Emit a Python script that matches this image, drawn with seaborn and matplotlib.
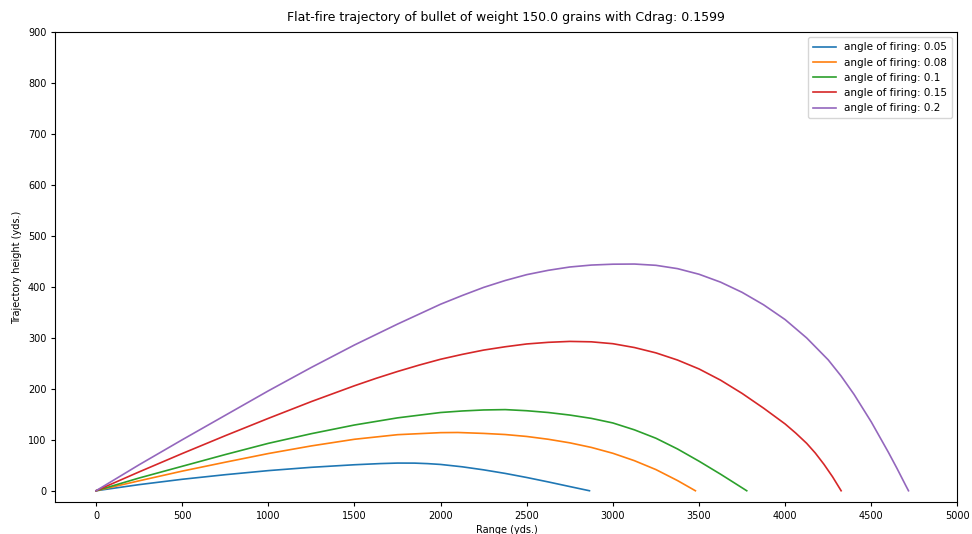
import matplotlib
matplotlib.use("Agg")
import matplotlib.pyplot as plt
import seaborn as sns
import pandas as pd

# Range (yds.) and height (yds.) samples for each firing angle
angles = [0.05, 0.08, 0.1, 0.15, 0.2]

x_005 = [0, 250, 500, 750, 1000, 1250, 1500, 1650, 1750, 1850, 1925, 2000, 2125,
         2250, 2375, 2500, 2625, 2750, 2864]
y_005 = [0, 12, 22.5, 31.5, 39.5, 46, 51, 53.3, 54.3, 54.2, 53.2, 51.6, 47,
         41, 34, 26, 17.3, 8.2, 0]

x_008 = [0, 250, 500, 750, 1000, 1250, 1500, 1750, 2000, 2100, 2250, 2375, 2500,
         2625, 2750, 2875, 3000, 3125, 3250, 3375, 3479]
y_008 = [0, 19.5, 38.5, 56, 73, 88, 101, 110, 114, 114.3, 112.5, 110.3, 106.5,
         101, 94, 85, 73.5, 59, 41.5, 20, 0]

x_010 = [0, 250, 500, 750, 1000, 1250, 1500, 1750, 2000, 2125, 2250, 2375, 2500,
         2625, 2750, 2875, 3000, 3125, 3250, 3375, 3500, 3625, 3700, 3777]
y_010 = [0, 25, 48, 71, 93, 112, 129, 143, 153.5, 156.5, 158.5, 159.2, 157,
         153.5, 148.5, 142, 133, 119.5, 103, 82, 58, 32.5, 16.5, 0]

x_015 = [0, 250, 500, 750, 1000, 1250, 1500, 1625, 1750, 1875, 2000, 2125, 2250,
         2375, 2500, 2625, 2750, 2875, 3000, 3125, 3250, 3375, 3500, 3625, 3750,
         3875, 4000, 4062, 4125, 4175, 4225, 4275, 4325]
y_015 = [0, 37, 73, 108, 142, 175, 206, 220.5, 234, 246.5, 258, 267.5, 276,
         282.5, 288, 291.2, 293, 292.2, 288.5, 281, 270.5, 256.5, 239, 217, 191,
         162, 131, 113, 93, 74, 52, 27.5, 0]

x_020 = [0, 250, 500, 750, 1000, 1250, 1500, 1750, 2000, 2125, 2250, 2375, 2500,
         2625, 2750, 2875, 3000, 3125, 3250, 3375, 3500, 3625, 3750, 3875, 4000,
         4125, 4250, 4325, 4400, 4500, 4600, 4650, 4700, 4716]
y_020 = [0, 51, 100, 148, 196, 242, 286, 327, 366, 383, 399, 412.5, 424,
         432.5, 439, 442.8, 444.5, 444.8, 442.3, 435.8, 424.8, 409.3, 389.3, 364.8,
         335.8, 299.8, 256.8, 225, 189, 135, 75, 43.3, 10.3, 0]

xs = [x_005, x_008, x_010, x_015, x_020]
ys = [y_005, y_008, y_010, y_015, y_020]

x_ticks = list(range(0, 5001, 500))
y_ticks = list(range(0, 901, 100))

fig = plt.figure(figsize=(9.72, 5.34), dpi=100)
ax = fig.add_axes([0.057, 0.06, 0.928, 0.88])

palette = sns.color_palette("tab10", len(angles))
for ang, xv, yv, col in zip(angles, xs, ys, palette):
    df = pd.DataFrame({"range": xv, "height": yv})
    sns.lineplot(data=df, x="range", y="height", ax=ax, sort=False,
                 estimator=None, color=col, linewidth=1.2,
                 label=f"angle of firing: {ang}")

ax.set_xlim(-236, 5000)
ax.set_ylim(-22, 900)
ax.set_xticks(x_ticks)
ax.set_yticks(y_ticks)
ax.tick_params(labelsize=7, length=3)
ax.set_xlabel("Range (yds.)", fontsize=7, labelpad=3)
ax.set_ylabel("Trajectory height (yds.)", fontsize=7, labelpad=4)
ax.set_title("Flat-fire trajectory of bullet of weight 150.0 grains with Cdrag: 0.1599",
             fontsize=9, pad=8)
ax.legend(loc="upper right", fontsize=7.5, handlelength=2.2, borderpad=0.5,
          labelspacing=0.5)

fig.savefig("out.png", dpi=100)
